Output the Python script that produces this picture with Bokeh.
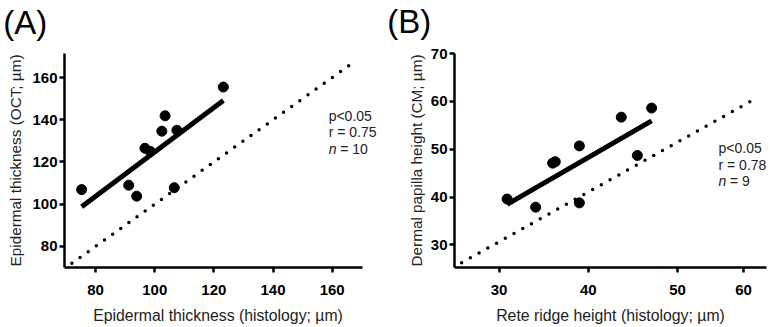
import numpy as np
from bokeh.plotting import figure
from bokeh.layouts import row, column
from bokeh.models import Label, FixedTicker, Range1d
from bokeh.embed import file_html
from bokeh.resources import INLINE

# ---------------- data ----------------
# Panel A: epidermal thickness, histology (x) vs OCT (y), µm
a_hist = [75.3, 91.2, 93.9, 96.7, 98.5, 102.4, 103.5, 107.5, 106.6, 123.2]
a_oct = [106.9, 109.0, 103.8, 126.5, 125.0, 134.6, 141.9, 135.0, 107.8, 155.5]
a_identity = [72, 168]
a_xticks = [80, 100, 120, 140, 160]
a_yticks = [80, 100, 120, 140, 160]
a_stats = ["p<0.05", "r = 0.75", "= 10"]
a_xlabel = "Epidermal thickness (histology; µm)"
a_ylabel = "Epidermal thickness (OCT; µm)"

# Panel B: rete ridge height, histology (x) vs dermal papilla height, CM (y), µm
b_hist = [30.9, 34.1, 36.0, 36.3, 39.0, 39.0, 43.7, 45.5, 47.1]
b_cm = [39.6, 37.9, 47.1, 47.4, 50.7, 38.8, 56.7, 48.7, 58.6]
b_identity_x = [25.8, 58.4]
b_identity_y = [26.3, 60.2]
b_xtick_pos = [30, 40, 50, 57.4]
b_xtick_labels = ["30", "40", "50", "60"]
b_yticks = [30, 40, 50, 60, 70]
b_stats = ["p<0.05", "r = 0.78", "= 9"]
b_xlabel = "Rete ridge height (histology; µm)"
b_ylabel = "Dermal papilla height (CM; µm)"

FONT = "Liberation Sans"
TXT = "#222222"


def blank(p):
    p.grid.visible = False
    p.outline_line_color = None
    p.background_fill_color = "white"
    p.border_fill_color = "white"


def style(p, ylabel):
    blank(p)
    for ax in (p.xaxis[0], p.yaxis[0]):
        ax.axis_line_width = 2.5
        ax.axis_line_color = "black"
        ax.major_tick_line_width = 2.5
        ax.major_tick_line_color = "black"
        ax.major_tick_out = 5
        ax.major_tick_in = 0
        ax.minor_tick_out = 0
        ax.minor_tick_in = 0
        ax.major_label_text_font = FONT
        ax.major_label_text_font_style = "bold"
        ax.major_label_text_font_size = "15px"
        ax.major_label_text_color = "black"
        ax.axis_label_text_font = FONT
        ax.axis_label_text_font_style = "normal"
        ax.axis_label_text_color = TXT
    p.xaxis[0].major_label_standoff = 12
    p.yaxis[0].axis_label = ylabel
    p.yaxis[0].axis_label_text_font_size = "15.3px"
    p.yaxis[0].major_label_standoff = 2
    p.yaxis[0].axis_label_standoff = 5


def add_fit(p, x, y):
    k, b = np.polyfit(np.array(x), np.array(y), 1)
    xs = np.array([min(x), max(x)])
    p.line(xs, k * xs + b, line_width=5, line_color="black", line_cap="butt")


def add_stats(p, x, ys, texts):
    for yy, t in zip(ys[:2], texts[:2]):
        p.add_layout(Label(x=x, y=yy, text=t, text_font=FONT, text_font_size="14px",
                           text_color=TXT, text_baseline="middle", text_align="left"))
    p.add_layout(Label(x=x, y=ys[2], text="n", text_font=FONT, text_font_size="14px",
                       text_font_style="italic", text_color=TXT,
                       text_baseline="middle", text_align="left"))
    p.add_layout(Label(x=x, y=ys[2], x_offset=11.5, text=texts[2], text_font=FONT,
                       text_font_size="14px", text_color=TXT,
                       text_baseline="middle", text_align="left"))


# ---------------- top strip: panel letters ----------------
top = figure(width=770, height=45, output_backend="svg", toolbar_location=None, title=None,
             x_range=Range1d(0, 770), y_range=Range1d(45, 0),
             x_axis_location=None, y_axis_location=None, min_border=0)
blank(top)
top.add_layout(Label(x=2.7, y=22.0, text="(A)", text_font=FONT, text_font_size="33px",
                     text_color="black", text_baseline="middle", text_align="left"))
top.add_layout(Label(x=386.7, y=21.0, text="(B)", text_font=FONT, text_font_size="33px",
                     text_color="black", text_baseline="middle", text_align="left"))

# ---------------- panel A ----------------
pa = figure(width=384, height=263, output_backend="svg", toolbar_location=None, title=None,
            x_range=Range1d(69.5, 175.65), y_range=Range1d(70, 171.4),
            min_border_left=64, min_border_right=6, min_border_top=8, min_border_bottom=39)
style(pa, a_ylabel)
pa.xaxis[0].bounds = (69.5, 170.4)
pa.xaxis[0].ticker = FixedTicker(ticks=a_xticks)
pa.yaxis[0].ticker = FixedTicker(ticks=a_yticks)
pa.line(a_identity, a_identity, line_width=3.5, line_color="black",
        line_dash="0 10", line_cap="round")
add_fit(pa, a_hist, a_oct)
pa.scatter(a_hist, a_oct, size=10, color="black")
add_stats(pa, 158.8, [141.9, 134.0, 126.3], a_stats)

# ---------------- panel B ----------------
pb = figure(width=386, height=263, output_backend="svg", toolbar_location=None, title=None,
            x_range=Range1d(25, 60.43), y_range=Range1d(25.3, 70),
            min_border_left=70, min_border_right=0, min_border_top=7, min_border_bottom=41)
style(pb, b_ylabel)
pb.xaxis[0].bounds = (25, 60)
pb.xaxis[0].ticker = FixedTicker(ticks=b_xtick_pos)
pb.xaxis[0].major_label_overrides = {pos: lab for pos, lab in zip(b_xtick_pos, b_xtick_labels)}
pb.yaxis[0].ticker = FixedTicker(ticks=b_yticks)
pb.yaxis[0].axis_label_standoff = 3
pb.line(b_identity_x, b_identity_y, line_width=3.5, line_color="black",
        line_dash="0 10", line_cap="round")
add_fit(pb, b_hist, b_cm)
pb.scatter(b_hist, b_cm, size=10, color="black")
add_stats(pb, 54.6, [50.3, 46.8, 43.3], b_stats)

# ---------------- bottom strip: x-axis titles ----------------
bottom = figure(width=770, height=19, output_backend="svg", toolbar_location=None, title=None,
                x_range=Range1d(0, 770), y_range=Range1d(19, 0),
                x_axis_location=None, y_axis_location=None, min_border=0)
blank(bottom)
bottom.add_layout(Label(x=217.5, y=7.0, text=a_xlabel, text_font=FONT, text_font_size="15.8px",
                        text_color=TXT, text_baseline="middle", text_align="center"))
bottom.add_layout(Label(x=610, y=7.0, text=b_xlabel, text_font=FONT, text_font_size="15.8px",
                        text_color=TXT, text_baseline="middle", text_align="center"))

layout = column(top, row(pa, pb), bottom)
open("out.html", "w").write(file_html(layout, INLINE))
